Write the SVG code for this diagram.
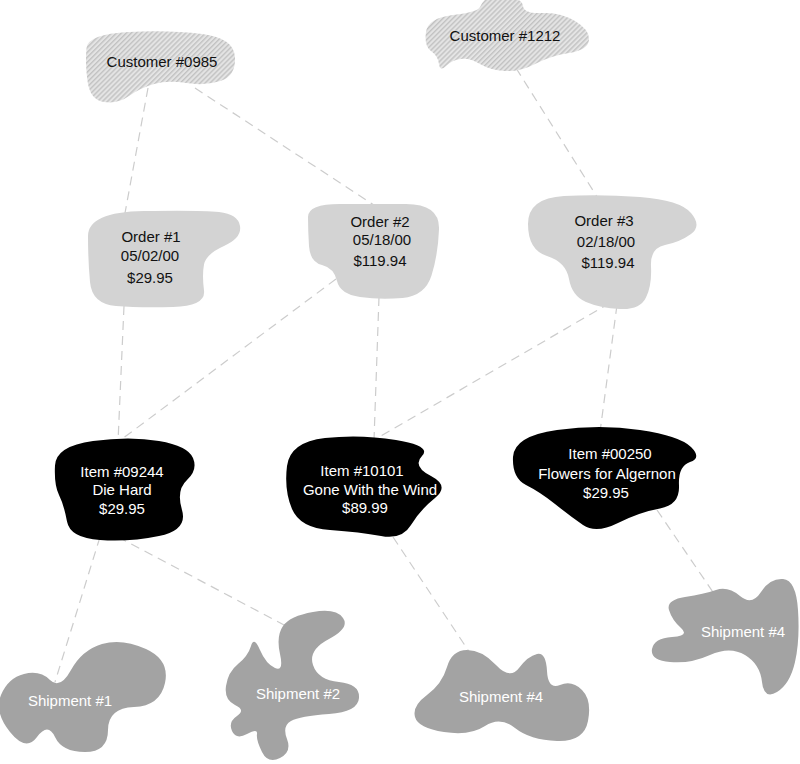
<svg xmlns="http://www.w3.org/2000/svg" width="800" height="764" viewBox="0 0 800 764">
<style>
.conn{stroke:#cccccc;stroke-width:1.2;stroke-dasharray:9 6;fill:none}
.cust{fill:url(#hatch)}
.order{fill:#d3d3d3}
.item{fill:#000}
.ship{fill:#a3a3a3}
text{font-family:"Liberation Sans",Arial,sans-serif;font-size:15px;text-anchor:middle}
.dark{fill:#111}
.light{fill:#fff}
</style>
<defs>
<pattern id="hatch" patternUnits="userSpaceOnUse" width="3.5" height="3.5" patternTransform="rotate(45)">
<rect width="3.5" height="3.5" fill="#e4e4e4"/>
<rect width="1.4" height="3.5" fill="#c2c2c2"/>
</pattern>
</defs>
<rect width="800" height="764" fill="#fff"/>
<g id="connectors">
<path class="conn" d="M148,88 L125,213"/>
<path class="conn" d="M195,88 L377,207"/>
<path class="conn" d="M516,68 L599,200"/>
<path class="conn" d="M124,306 L118,442"/>
<path class="conn" d="M336,279 L118,442"/>
<path class="conn" d="M379,297 L374,440"/>
<path class="conn" d="M610,303 L374,440"/>
<path class="conn" d="M617,305 L600,432"/>
<path class="conn" d="M100,537 L55,682"/>
<path class="conn" d="M118,537 L286,626"/>
<path class="conn" d="M393,537 L470,653"/>
<path class="conn" d="M657,510 L717,598"/>
</g>
<g id="customer-0985">
<path class="cust" d="M129,32 Q170,30 202,34 Q234,38 235,57 Q236,76 220.5,81 Q205,86 186.5,83 Q168,80 154,84 Q140,88 129,96 Q118,104 104,102 Q90,100 87.5,81 Q85,62 86.5,48 Q88,34 129,32 Z"/>
<text class="dark" x="162" y="67">Customer #0985</text>
</g>
<g id="customer-1212">
<path class="cust" d="M506,-3 Q522,-2 523,6 Q524,14 542,13 Q560,12 575,21 Q590,30 589,40 Q588,50 569,53 Q550,56 535,64 Q520,72 505,71 Q490,70 480,64 Q470,58 461,59 Q452,60 446,66 Q440,72 439,64 Q438,56 431,51 Q424,46 426,32 Q428,18 453,15 Q478,12 480,7 Q482,2 486,-1 Q490,-4 506,-3 Z"/>
<text class="dark" x="505" y="41">Customer #1212</text>
</g>
<g id="order-1">
<path class="order" d="M144,211 Q200,210 219,212 Q238,214 240,226 Q242,238 224,246 Q206,254 204,264.5 Q202,275 204,290.5 Q206,306 173,307 Q140,308 116,306 Q92,304 90,282 Q88,260 88,236 Q88,212 144,211 Z"/>
<text class="dark" x="151" y="242">Order #1</text>
<text class="dark" x="150" y="261">05/02/00</text>
<text class="dark" x="150" y="283">$29.95</text>
</g>
<g id="order-2">
<path class="order" d="M340,204 Q372,204 406,204 Q440,204 439,229.5 Q438,255 431.5,275.5 Q425,296 402.5,298 Q380,300 360,297 Q340,294 337,281 Q334,268 322,265 Q310,262 309,246 Q308,230 308,217 Q308,204 340,204 Z"/>
<text class="dark" x="380" y="227">Order #2</text>
<text class="dark" x="382" y="245">05/18/00</text>
<text class="dark" x="380" y="266">$119.94</text>
</g>
<g id="order-3">
<path class="order" d="M564,196 Q600,194 640,197 Q680,200 691,213 Q702,226 691,234 Q680,242 665,245 Q650,248 651,266.5 Q652,285 646,297.5 Q640,310 620,309 Q600,308 586,302 Q572,296 569,279 Q566,262 547,256 Q528,250 528,224 Q528,198 564,196 Z"/>
<text class="dark" x="604" y="226">Order #3</text>
<text class="dark" x="606" y="247">02/18/00</text>
<text class="dark" x="608" y="268">$119.94</text>
</g>
<g id="item-09244">
<path class="item" d="M93,441 Q130,436 159,441 Q188,446 193,458 Q198,470 187,480 Q176,490 182,510 Q188,530 159,536 Q130,542 100,540 Q70,538 67,521.5 Q64,505 59,495 Q54,485 55,465.5 Q56,446 93,441 Z"/>
<text class="light" x="122" y="477">Item #09244</text>
<text class="light" x="122" y="495">Die Hard</text>
<text class="light" x="122" y="514">$29.95</text>
</g>
<g id="item-10101">
<path class="item" d="M325,438 Q360,434 396,440 Q432,446 422,456 Q412,466 431,476 Q450,486 435,498 Q420,510 411,525 Q402,540 381,536 Q360,532 330,530 Q300,528 292,509 Q284,490 287,466 Q290,442 325,438 Z"/>
<text class="light" x="362" y="476">Item #10101</text>
<text class="light" x="370" y="495">Gone With the Wind</text>
<text class="light" x="365" y="513">$89.99</text>
</g>
<g id="item-00250">
<path class="item" d="M557,430 Q600,424 640,430 Q680,436 691,447 Q702,458 690,462 Q678,466 679,485.5 Q680,505 660,508.5 Q640,512 618,523 Q596,534 583,525 Q570,516 555,504 Q540,492 526,485 Q512,478 513,457 Q514,436 557,430 Z"/>
<text class="light" x="610" y="459">Item #00250</text>
<text class="light" x="607" y="479">Flowers for Algernon</text>
<text class="light" x="606" y="498">$29.95</text>
</g>
<g id="shipment-1">
<path class="ship" d="M10,732 Q-6,712 1,695 Q8,678 24,674 Q40,670 50,680 Q60,690 71,670 Q82,650 102,644 Q122,638 146,649 Q170,660 165,683 Q160,706 134,707 Q108,708 108,730 Q108,752 85,752 Q62,752 55,737 Q48,722 37,737 Q26,752 10,732 Z"/>
<text class="light" x="70" y="706">Shipment #1</text>
</g>
<g id="shipment-2">
<path class="ship" d="M313,612 Q336,608 343,618 Q350,628 329,639 Q308,650 313,665 Q318,680 339,682 Q360,684 359,698 Q358,712 329,714 Q300,716 291,721 Q282,726 287,739 Q292,752 280,758 Q268,764 262,752 Q256,740 257,734 Q258,728 247,734 Q236,740 232,731 Q228,722 237,716 Q246,710 235,705 Q224,700 226,686 Q228,672 238,664 Q248,656 251,646 Q254,636 260,650 Q266,664 275,668 Q284,672 280,654 Q276,636 283,626 Q290,616 313,612 Z"/>
<text class="light" x="298" y="699">Shipment #2</text>
</g>
<g id="shipment-4a">
<path class="ship" d="M467,650 Q482,650 496,665 Q510,680 519,668 Q528,656 537,654 Q546,652 547,671 Q548,690 560,685 Q572,680 582,690 Q592,700 588,721 Q584,742 557,741 Q530,740 515,728 Q500,716 485,726 Q470,736 444,732 Q418,728 415,717 Q412,706 427,695 Q442,684 447,667 Q452,650 467,650 Z"/>
<text class="light" x="501" y="702">Shipment #4</text>
</g>
<g id="shipment-4b">
<path class="ship" d="M716,590 Q728,586 740,596 Q752,606 761,592 Q770,578 783,579 Q796,580 798,610 Q800,640 795,662 Q790,684 777,692 Q764,700 762,682 Q760,664 745,655 Q730,646 710,655 Q690,664 670,662 Q650,660 652,649 Q654,638 672,637 Q690,636 681,628 Q672,620 669,610 Q666,600 685,597 Q704,594 716,590 Z"/>
<text class="light" x="743" y="637">Shipment #4</text>
</g>
</svg>
